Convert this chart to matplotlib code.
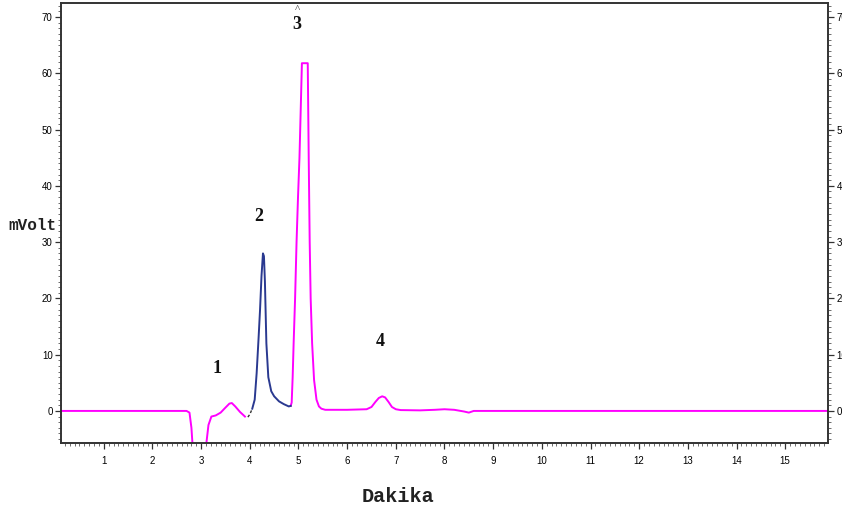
import matplotlib
matplotlib.use("Agg")
import matplotlib.pyplot as plt
from matplotlib.ticker import MultipleLocator

# ---- data ----
# magenta trace (main detector signal), split around the blue-drawn peak 2
mag1_t = [0.12, 1.0, 2.0, 2.70, 2.76, 2.80, 2.83, 2.86, 3.06, 3.09, 3.11, 3.15, 3.21, 3.30,
          3.40, 3.50, 3.58, 3.63, 3.70, 3.80, 3.90]
mag1_v = [0.0, 0.0, 0.0, 0.0, -0.3, -3.0, -7.0, -9.0, -9.0, -7.0, -5.5, -2.5, -1.0, -0.8,
          -0.3, 0.6, 1.3, 1.4, 0.8, -0.2, -1.0]

blk_t = [3.96, 4.00, 4.05]
blk_v = [-1.1, -0.6, 0.4]

blue_t = [4.05, 4.10, 4.14, 4.18, 4.21, 4.24, 4.27, 4.29, 4.31, 4.34, 4.38, 4.44,
          4.50, 4.60, 4.70, 4.80, 4.84]
blue_v = [0.4, 2.0, 6.7, 13.0, 18.0, 24.0, 28.0, 27.5, 23.0, 12.0, 6.0, 3.5,
          2.6, 1.7, 1.2, 0.8, 0.9]

mag2_t = [4.84, 4.86, 4.88, 4.90, 4.93, 4.96, 4.99, 5.02, 5.05, 5.07, 5.19, 5.21, 5.23,
          5.25, 5.28, 5.32, 5.37, 5.42, 5.47, 5.55, 6.00, 6.40, 6.50, 6.58, 6.65, 6.72,
          6.78, 6.85, 6.92, 7.00, 7.10, 7.50, 7.80, 8.00, 8.20, 8.40, 8.50, 8.60, 9.00,
          12.0, 15.88]
mag2_v = [0.9, 1.5, 6.0, 12.0, 20.0, 30.0, 38.0, 45.0, 55.0, 61.8, 61.8, 45.0, 30.0,
          20.0, 12.0, 5.5, 2.0, 0.8, 0.4, 0.2, 0.2, 0.3, 0.7, 1.6, 2.3, 2.6,
          2.4, 1.6, 0.7, 0.3, 0.15, 0.1, 0.2, 0.3, 0.2, -0.1, -0.3, 0.0, 0.0,
          0.0, 0.0]

peak_labels = ["1", "2", "3", "4"]
peak_label_x = [3.32, 4.19, 4.97, 6.69]
peak_label_y = [7.6, 34.6, 68.6, 12.4]

x_ticks = list(range(1, 16))
y_ticks = [0, 10, 20, 30, 40, 50, 60, 70]

# ---- figure ----
fig = plt.figure(figsize=(8.42, 5.13), dpi=100)
ax = fig.add_axes([61/842, 1-443/513, (828-61)/842, (443-3)/513])

MAG = "#FF00FF"
BLUE = "#2A3990"
ax.plot(mag1_t, mag1_v, color=MAG, lw=1.4, solid_joinstyle="round")
ax.plot(mag2_t, mag2_v, color=MAG, lw=1.4, solid_joinstyle="round")
ax.plot(blue_t, blue_v, color=BLUE, lw=1.4, solid_joinstyle="round")
ax.plot(blk_t, blk_v, color="#333333", lw=1.0, ls=(0, (2, 1.5)))

ax.set_xlim(0.12, 15.88)
ax.set_ylim(-5.7, 72.5)

ax.xaxis.set_major_locator(MultipleLocator(1))
ax.xaxis.set_minor_locator(MultipleLocator(0.1))
ax.yaxis.set_major_locator(MultipleLocator(10))
ax.yaxis.set_minor_locator(MultipleLocator(1))

ax.tick_params(axis="both", which="major", direction="out", length=4, width=0.9,
               color="#333333", labelsize=7, pad=2)
ax.tick_params(axis="both", which="minor", direction="out", length=2, width=0.6,
               color="#555555")
ax.tick_params(axis="y", which="both", right=True, labelright=True)
ax.tick_params(axis="x", which="major", pad=5)

for lab in ax.get_xticklabels() + ax.get_yticklabels():
    lab.set_fontfamily("Liberation Sans")

for sp in ax.spines.values():
    sp.set_linewidth(1.4)
    sp.set_color("#333333")

for lab, x, y in zip(peak_labels, peak_label_x, peak_label_y):
    ax.text(x, y, lab, family="Liberation Serif", fontweight="bold", fontsize=13,
            ha="center", va="center", color="#111111")
ax.text(peak_label_x[2], 71.3, "^", family="Liberation Serif", fontsize=8,
        ha="center", va="center", color="#333333")

fig.text(8/842, 1-226/513, "mVolt", family="Liberation Mono", fontweight="bold",
         fontsize=11.5, ha="left", va="center", color="#222222")
fig.text(398/842, 1-497/513, "Dakika", family="Liberation Mono", fontweight="bold",
         fontsize=14.5, ha="center", va="center", color="#222222")

fig.savefig("out.png", dpi=100, facecolor="white")
